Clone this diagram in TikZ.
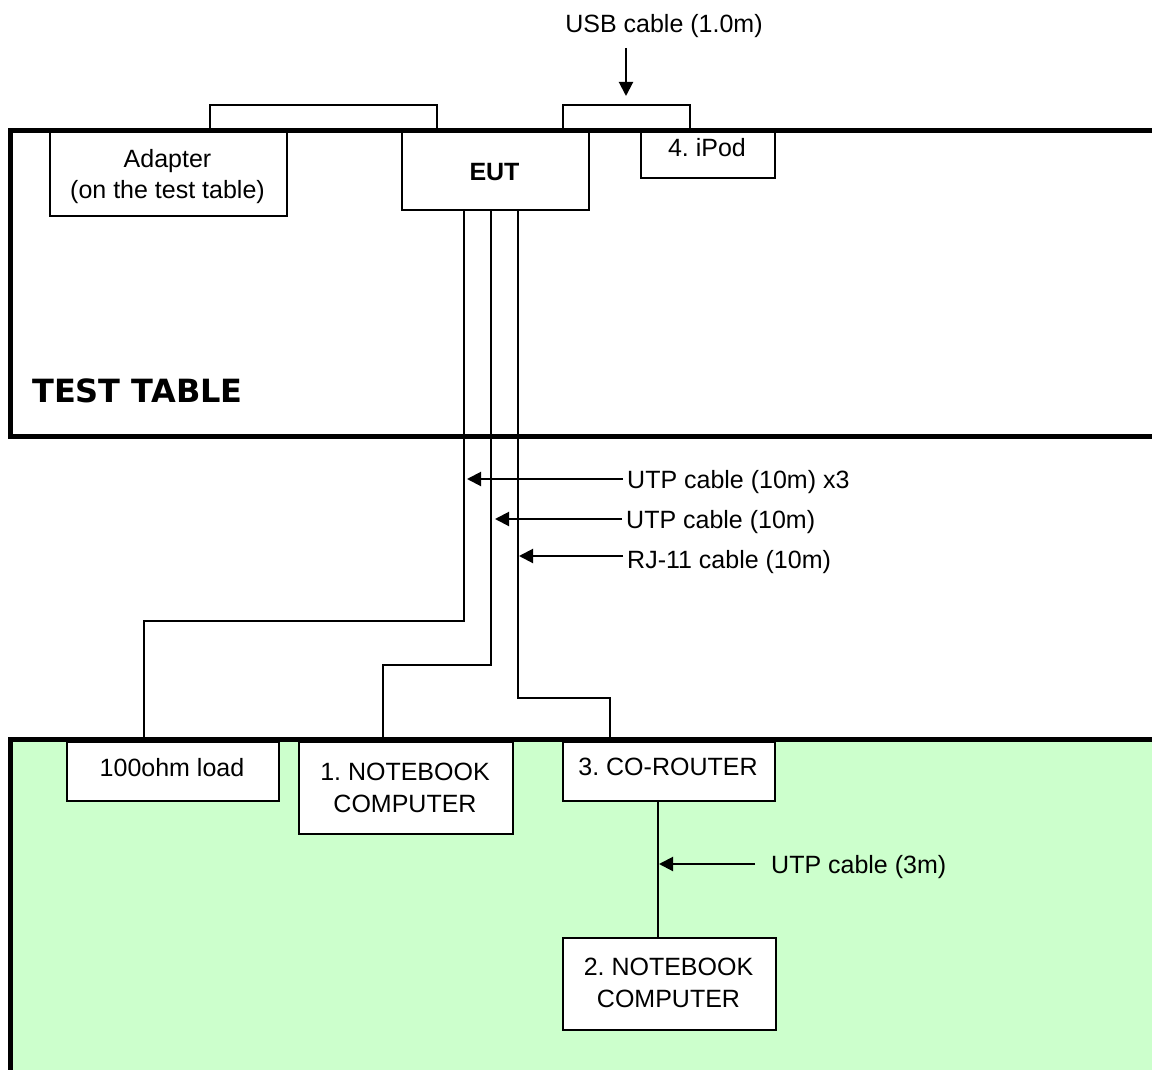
\documentclass[tikz,border=0pt]{standalone}
\usepackage{fontspec}
\setmainfont{Liberation Sans}
\newfontfamily\tablefont{DejaVu Sans}
\usetikzlibrary{arrows.meta}
\definecolor{benchgreen}{HTML}{CCFFCC}
\frenchspacing

\begin{document}
\begin{tikzpicture}[x=1pt,y=-1pt,
  wire/.style={line width=2pt},
  tableedge/.style={line width=5pt},
  unit/.style={draw, fill=white, line width=2pt, inner sep=0pt, anchor=north west},
  lbl/.style={font=\fontsize{25}{31.5}\selectfont, inner sep=0pt, align=center},
  callout/.style={line width=2pt, -{Triangle[length=14pt,width=14pt]}}
]
\useasboundingbox (0,0) rectangle (1152,1070);

% floor area under the test table
\fill[benchgreen] (10,739) rectangle (1160,1075);

% equipment on the test table
\node[unit, minimum width=237pt, minimum height=84pt] (adapter) at (49,131) {};
\node[unit, minimum width=187pt, minimum height=78pt] (eut) at (401,131) {};
\node[unit, minimum width=134pt, minimum height=46pt] (ipod) at (640,131) {};

% equipment on the floor
\node[unit, minimum width=212pt, minimum height=59pt] (load) at (66,741) {};
\node[unit, minimum width=214pt, minimum height=92pt] (nb1) at (298,741) {};
\node[unit, minimum width=212pt, minimum height=59pt] (router) at (562,741) {};
\node[unit, minimum width=213pt, minimum height=92pt] (nb2) at (562,937) {};

% box captions (base = baseline of the last line)
\node[lbl, anchor=base] (adapterlbl) at (167.5,198.5) {Adapter\\(on the test table)};
\node[lbl, anchor=base] (eutlbl) at (494.5,181) {\bfseries EUT};
\node[lbl, anchor=base] (ipodlbl) at (707,157) {4. iPod};
\node[lbl, anchor=base] (loadlbl) at (172,776) {100ohm load};
\node[lbl, anchor=base] (nb1lbl) at (405,812) {1. NOTEBOOK\\COMPUTER};
\node[lbl, anchor=base] (routerlbl) at (668,775) {3. CO-ROUTER};
\node[lbl, anchor=base] (nb2lbl) at (668.5,1007) {2. NOTEBOOK\\COMPUTER};

% table outline and floor edge
\draw[tableedge, line join=miter] (1160,130.5) -- (10,130.5) -- (10,436) -- (1160,436);
\draw[tableedge, line join=miter] (1160,739) -- (10,739) -- (10,1075);
\node[font=\tablefont\bfseries\fontsize{32}{36}\selectfont, inner sep=0pt, anchor=base west] (tabletitle) at (32,402) {TEST TABLE};

% short cables on top of the table
\coordinate (b1) at (210,105);
\coordinate (b2) at (437,105);
\coordinate (b3) at (563,105);
\coordinate (b4) at (690,105);
\draw[wire] (adapter.north -| b1) |- (b2) -- (b2 |- eut.north);
\draw[wire] (eut.north -| b3) |- (b4) -- (b4 |- ipod.north);

% long cables down to the floor
\coordinate (k1) at (144,621);
\coordinate (k2) at (383,665);
\coordinate (k3) at (610,698);
\draw[wire] ([xshift=-31.5pt]eut.south) |- (k1) -- (k1 |- load.north);
\draw[wire] ([xshift=-4.5pt]eut.south) |- (k2) -- (k2 |- nb1.north);
\draw[wire] ([xshift=22.5pt]eut.south) |- (k3) -- (k3 |- router.north);
\coordinate (r1) at (658,800);
\draw[wire] (r1 |- router.south) -- (r1 |- nb2.north);

% cable callouts
\node[lbl, anchor=base] (usb) at (664,33) {USB cable (1.0m)};
\coordinate (u1) at (626,48);
\coordinate (u2) at (626,96);
\draw[callout] (u1) -- (u2);

\node[lbl, anchor=base west, inner xsep=4pt] (utpa) at (623,488) {UTP cable (10m) x3};
\node[lbl, anchor=base west, inner xsep=4pt] (utpb) at (622,528) {UTP cable (10m)};
\node[lbl, anchor=base west, inner xsep=4pt] (rj) at (623,568) {RJ-11 cable (10m)};
\node[lbl, anchor=base west, inner xsep=16pt] (utpd) at (755,873) {UTP cable (3m)};
\coordinate (t1) at (467,479);
\coordinate (t2) at (495,519);
\coordinate (t3) at (519,556);
\coordinate (t4) at (659,864);
\draw[callout] (utpa.west |- t1) -- (t1);
\draw[callout] (utpb.west |- t2) -- (t2);
\draw[callout] (rj.west |- t3) -- (t3);
\draw[callout] (utpd.west |- t4) -- (t4);
\end{tikzpicture}
\end{document}
